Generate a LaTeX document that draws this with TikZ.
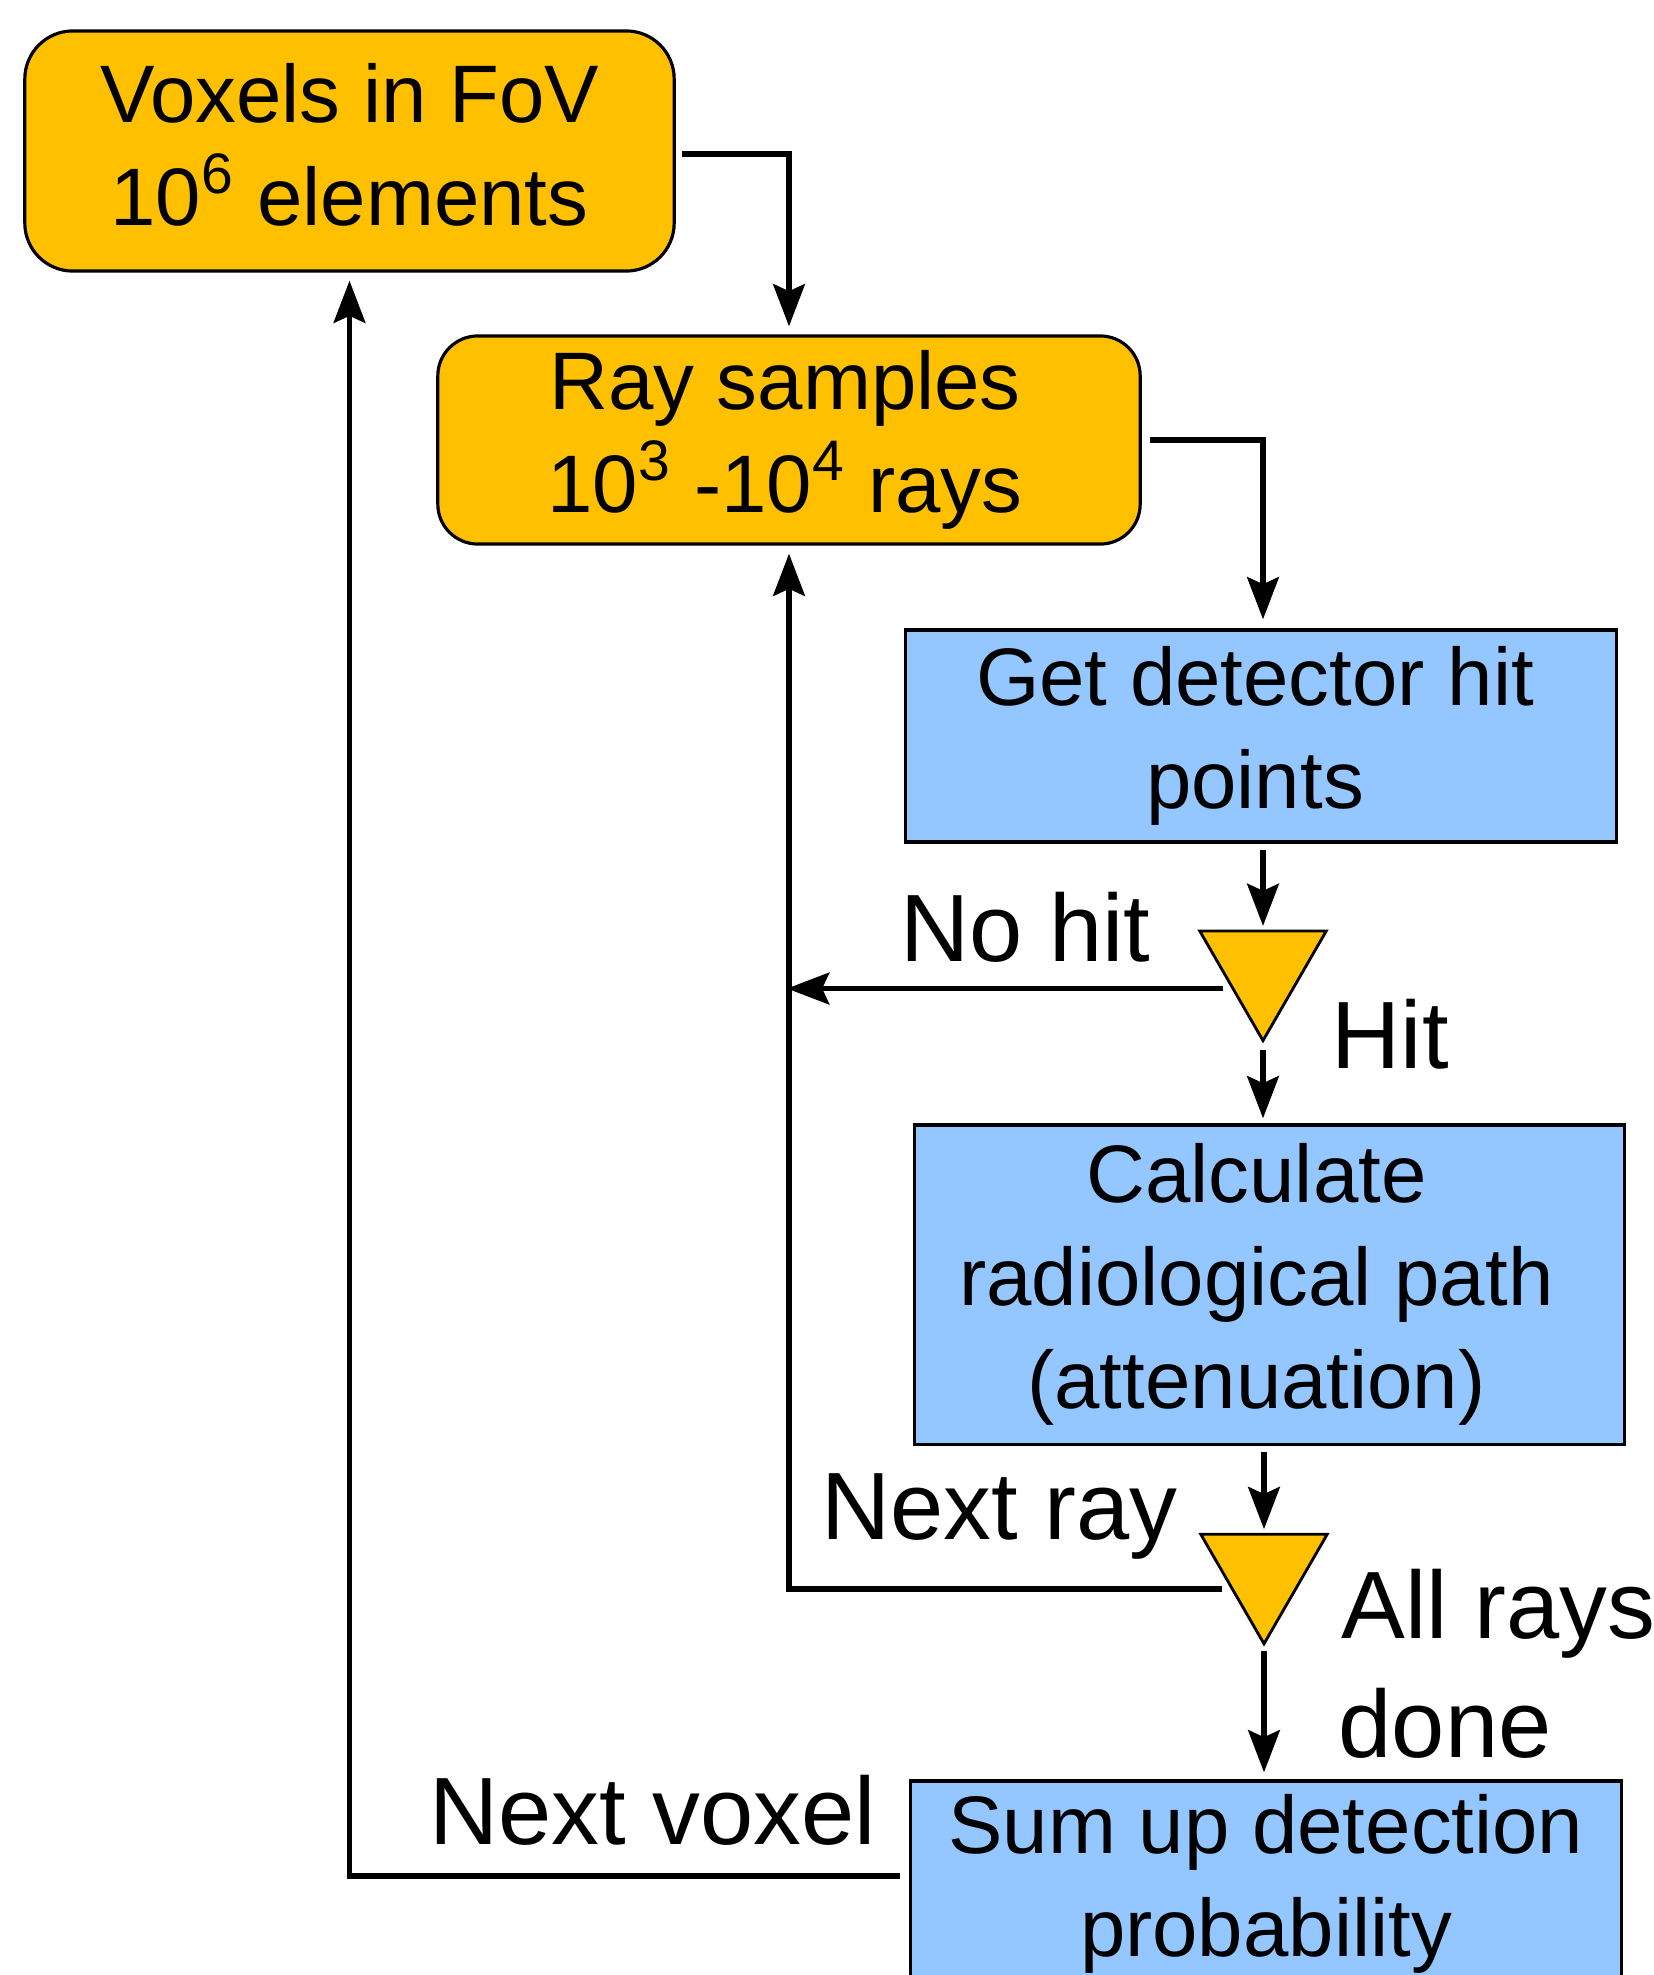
\documentclass[tikz,border=0pt]{standalone}
\usepackage{fontspec}
\setmainfont{Liberation Sans}
\usetikzlibrary{arrows.meta,shapes.geometric,calc}
\definecolor{gold}{RGB}{255,192,0}
\definecolor{sky}{RGB}{148,198,255}
\begin{document}
\begin{tikzpicture}[x=0.01cm,y=-0.01cm,
  boxfont/.style={font=\fontsize{23.2}{29.3}\selectfont},
  lblfont/.style={font=\fontsize{27.2}{33.9}\selectfont},
  roundbox/.style={draw=black, line width=0.9pt, fill=gold, align=center, inner sep=0pt, boxfont},
  sqbox/.style={draw=black, line width=0.9pt, fill=sky, align=center, inner sep=0pt, boxfont},
  decide/.style={draw=black, line width=0.8pt, fill=gold, regular polygon, regular polygon sides=3, shape border rotate=180, minimum size=1.46cm, inner sep=0pt, outer sep=0pt},
  lbl/.style={anchor=base west, inner sep=0pt, lblfont},
  conn/.style={line width=1.6pt, -{Stealth[length=12pt,width=9pt,inset=2pt]}}
]
\useasboundingbox (0,0) rectangle (1654,1975);
\fill[white] (0,0) rectangle (1654,1975);
\clip (0,0) rectangle (1654,1975);

\node[roundbox, minimum width=6.49cm, minimum height=2.40cm, rounded corners=0.48cm, text depth=3.7pt] (b1) at (349.5,151) {Voxels in FoV\\10\textsuperscript{6} elements};
\node[roundbox, minimum width=7.02cm, minimum height=2.08cm, rounded corners=0.40cm] (b2) at (789,440) {\begin{tabular}{@{}c@{\hspace{0.08cm}}}Ray samples\\10\textsuperscript{3} -10\textsuperscript{4} rays\end{tabular}};
\node[sqbox, minimum width=7.10cm, minimum height=2.12cm] (b3) at (1261,736) {\begin{tabular}{@{}c@{\hspace{0.12cm}}}Get detector hit\\points\end{tabular}};
\node[decide] (t1) at (1263,967.5) {};
\node[sqbox, minimum width=7.09cm, minimum height=3.19cm] (b4) at (1269.5,1284.5) {\begin{tabular}{@{}c@{\hspace{0.26cm}}}Calculate\\radiological path\\(attenuation)\end{tabular}};
\node[decide] (t2) at (1264,1570.7) {};
\node[sqbox, minimum width=7.10cm, minimum height=2.06cm] (b5) at (1266,1884) {Sum up detection\\probability};

\draw[conn, shorten <=0.06cm, shorten >=0.08cm] ([yshift=-0.03cm]b1.east) -| (b2.north);
\draw[conn, shorten <=0.08cm, shorten >=0.09cm] (b2.east) -| (b3.north -| t1.north);
\draw[conn, shorten <=0.06cm, shorten >=0.05cm] (b3.south -| t1.north) -- (t1.north);
\draw[conn, shorten <=0.09cm, shorten >=0.05cm] (t1.south) -- (b4.north -| t1.south);
\draw[conn, shorten <=0.1cm, shorten >=-0.02cm] (t1.215) -- (t1.215 -| b2.south);
\draw[conn, shorten <=0.06cm, shorten >=0.05cm] (b4.south -| t2.north) -- (t2.north);
\draw[conn, shorten <=0.07cm, shorten >=0.07cm] (t2.south) -- (b5.north -| t2.south);
\draw[conn, shorten <=0.1cm, shorten >=0.08cm] (t2.210) -| (b2.south);
\draw[conn, shorten <=0.09cm, shorten >=0.08cm] ([yshift=0.08cm]b5.west) -| (b1.south);

\node[lbl] (lnohit) at (900,961) {No hit};
\node[lbl] (lhit) at (1331,1068) {Hit};
\node[lbl] (lnextray) at (821,1539) {Next ray};
\node[lbl] (lall) at (1341,1638) {All rays};
\node[lbl] (ldone) at (1338,1757) {done};
\node[lbl] (lnextvox) at (429,1844) {Next voxel};
\end{tikzpicture}
\end{document}
